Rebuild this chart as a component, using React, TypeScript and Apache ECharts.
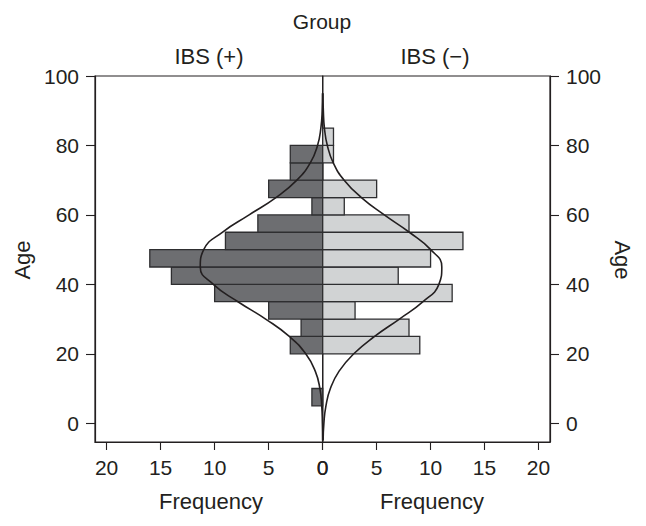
import React, { useEffect, useRef } from "react";
import * as echarts from "echarts";

// Age bins (start of each 5-year bin)
const ageBinStart = [0, 5, 10, 15, 20, 25, 30, 35, 40, 45, 50, 55, 60, 65, 70, 75, 80, 85];
const binWidth = 5;
// Frequencies per bin
const ibsPosCounts = [0, 1, 0, 0, 3, 2, 5, 10, 14, 16, 9, 6, 1, 5, 3, 3, 0, 0];
const ibsNegCounts = [0, 0, 0, 0, 9, 8, 3, 12, 7, 10, 13, 8, 2, 5, 0, 1, 1, 0];

// Fitted density curves (frequency scale), read at these ages
const curveAges = [-5, 0, 5, 10, 15, 20, 25, 30, 35, 40, 45, 50, 55, 60, 65, 70, 75, 80, 85, 90, 95];
const ibsPosCurve = [0.01, 0.03, 0.09, 0.26, 0.69, 1.57, 3.09, 5.28, 7.84, 10.12, 11.33, 11.01, 9.29, 6.81, 4.33, 2.39, 1.15, 0.48, 0.17, 0.05, 0.02];
const ibsNegCurve = [0.04, 0.11, 0.3, 0.71, 1.52, 2.88, 4.81, 7.11, 9.3, 10.77, 11.04, 10.01, 8.03, 5.71, 3.59, 1.99, 0.98, 0.43, 0.16, 0.06, 0.02];

const freqTicks = [0, 5, 10, 15, 20];
const ageTicks = [0, 20, 40, 60, 80, 100];

const groupTitle = "Group";
const groupNames = ["IBS (+)", "IBS (−)"];
const xTitle = "Frequency";
const yTitle = "Age";

const INK = "#231f20";
const FONT = "'Liberation Sans', Arial, Helvetica, sans-serif";

export default function App() {
  const ref = useRef<HTMLDivElement>(null);

  useEffect(() => {
    if (!ref.current) return;
    const chart = echarts.init(ref.current, undefined, { renderer: "svg" });

    const gridTop = 76;
    const gridH = 366;
    const leftX = 95;
    const midX = 322.7;
    const rightX = 550;

    const mkX = (idx: number, inverse: boolean) => ({
      gridIndex: idx,
      type: "value",
      min: 0,
      max: 21.07,
      inverse,
      position: "bottom",
      axisLine: { show: true, onZero: false, lineStyle: { color: INK, width: 1.2 } },
      axisTick: { show: true, length: 8, customValues: freqTicks, lineStyle: { color: INK, width: 1.1 } },
      axisLabel: { customValues: freqTicks, margin: 15, fontSize: 21, color: INK, fontFamily: FONT },
      splitLine: { show: false },
    });
    const mkY = (idx: number, pos: string) => ({
      gridIndex: idx,
      type: "value",
      min: -5.4,
      max: 100,
      position: pos,
      axisLine: { show: true, onZero: false, lineStyle: { color: INK, width: 1.2 } },
      axisTick: { show: true, length: 9, customValues: ageTicks, lineStyle: { color: INK, width: 1.1 } },
      axisLabel: { customValues: ageTicks, margin: 16, fontSize: 21, color: INK, fontFamily: FONT },
      splitLine: { show: false },
    });

    const barSeries = (idx: number, counts: number[], fill: string) => ({
      type: "custom",
      coordinateSystem: "cartesian2d",
      xAxisIndex: idx,
      yAxisIndex: idx,
      encode: { x: 2, y: [0, 1] },
      data: ageBinStart.map((a, i) => [a, a + binWidth, counts[i]]),
      renderItem: (params: any, api: any) => {
        const a0 = api.value(0);
        const a1 = api.value(1);
        const v = api.value(2);
        if (!v) return { type: "group", children: [] };
        const p0 = api.coord([0, a0]);
        const p1 = api.coord([v, a1]);
        return {
          type: "rect",
          shape: {
            x: Math.min(p0[0], p1[0]),
            y: Math.min(p0[1], p1[1]),
            width: Math.abs(p1[0] - p0[0]),
            height: Math.abs(p1[1] - p0[1]),
          },
          style: { fill, stroke: "#2e2e30", lineWidth: 1.3 },
        };
      },
      z: 2,
    });

    const curveSeries = (idx: number, vals: number[]) => ({
      type: "line",
      xAxisIndex: idx,
      yAxisIndex: idx,
      data: curveAges.map((a, i) => [vals[i], a]),
      showSymbol: false,
      smooth: 0.5,
      lineStyle: { color: INK, width: 1.6 },
      z: 5,
    });

    const txt = (text: string, x: number, y: number, rotation = 0, size = 22) => ({
      type: "text",
      x,
      y,
      rotation,
      style: {
        text,
        fill: INK,
        font: `${size}px ${FONT}`,
        align: "center",
        verticalAlign: "middle",
      },
    });

    chart.setOption({
      animation: false,
      backgroundColor: "#ffffff",
      grid: [
        { left: leftX, top: gridTop, width: midX - leftX, height: gridH, show: true, borderColor: INK, borderWidth: 1.2, backgroundColor: "transparent" },
        { left: midX, top: gridTop, width: rightX - midX, height: gridH, show: true, borderColor: INK, borderWidth: 1.2, backgroundColor: "transparent" },
      ],
      xAxis: [mkX(0, true), mkX(1, false)],
      yAxis: [mkY(0, "left"), mkY(1, "right")],
      series: [
        barSeries(0, ibsPosCounts, "#6d6e71"),
        barSeries(1, ibsNegCounts, "#d1d3d4"),
        curveSeries(0, ibsPosCurve),
        curveSeries(1, ibsNegCurve),
      ],
      graphic: [
        txt(groupTitle, 322, 21, 0, 21),
        txt(groupNames[0], 209, 56),
        txt(groupNames[1], 435, 56),
        txt(xTitle, 211, 501),
        txt(xTitle, 432, 501),
        txt(yTitle, 22, 260, Math.PI / 2),
        txt(yTitle, 622, 260, -Math.PI / 2),
      ],
    });

    return () => chart.dispose();
  }, []);

  return (
    <div
      ref={ref}
      style={{ position: "fixed", left: 0, top: 0, width: 646, height: 526, background: "#fff" }}
    />
  );
}
